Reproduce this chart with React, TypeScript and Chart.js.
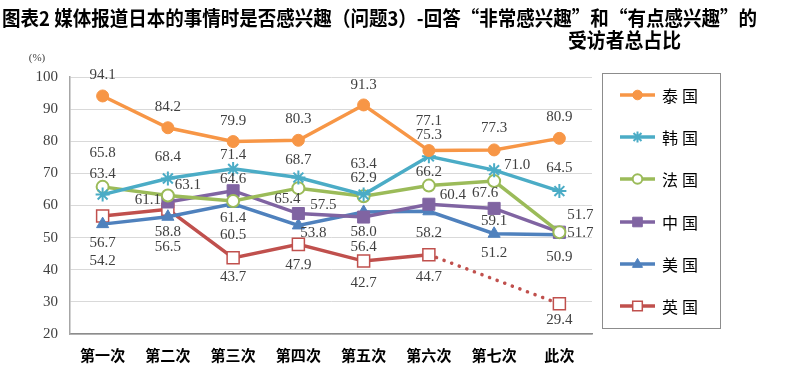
import React, { useEffect, useRef } from 'react';
import { Chart, registerables } from 'chart.js';

Chart.register(...registerables);

const categories = ['第一次', '第二次', '第三次', '第四次', '第五次', '第六次', '第七次', '此次'];
const seriesNames = ['泰国', '韩国', '法国', '中国', '美国', '英国'];
const thailand = [94.1, 84.2, 79.9, 80.3, 91.3, 77.1, 77.3, 80.9];
const korea = [63.4, 68.4, 71.4, 68.7, 63.4, 75.3, 71.0, 64.5];
const france = [65.8, 63.1, 61.4, 65.4, 62.9, 66.2, 67.6, 51.7];
const china = [null, 61.1, 64.6, 57.5, 56.4, 60.4, 59.1, 51.7];
const usa = [54.2, 56.5, 60.5, 53.8, 58.0, 58.2, 51.2, 50.9];
const uk = [56.7, 58.8, 43.7, 47.9, 42.7, 44.7, null, 29.4];
const yTicks = [20, 30, 40, 50, 60, 70, 80, 90, 100];

const titleLine1 = '图表2 媒体报道日本的事情时是否感兴趣（问题3）-回答“非常感兴趣”和“有点感兴趣”的';
const titleLine2 = '受访者总占比';
const unitLabel = '(%)';

// label offsets [dx, dy] per series, per point
const labelOffsets: number[][][] = [
  [[0, -21], [0, -21], [0, -21], [0, -21], [0, -20], [0, -30], [0, -22], [0, -21]],
  [[0, -21], [0, -21], [0, -14], [0, -17], [0, -31], [0, -21], [23, -5], [0, -23]],
  [[0, -34], [20, -10], [0, 17], [-11, 11], [0, -18], [0, -14], [-9, 12], [21, -17]],
  [[0, 0], [-20, -2], [0, -12], [25, -8], [0, 30], [24, -9], [0, 13], [21, 1]],
  [[0, 37], [0, 30], [0, 31], [15, 8], [0, 20], [0, 22], [0, 19], [0, 22]],
  [[0, 27], [0, 23], [0, 19], [0, 21], [0, 22], [0, 22], [0, 0], [0, 16]],
];

const colors = ['#F79646', '#4BACC6', '#9BBB59', '#8064A2', '#4F81BD', '#C0504D'];
const styles = [
  { pointStyle: 'circle', radius: 6, fill: '#F79646', bw: 1 },
  { pointStyle: 'star', radius: 7, fill: '#4BACC6', bw: 2 },
  { pointStyle: 'circle', radius: 6, fill: '#FFFFFF', bw: 2 },
  { pointStyle: 'rect', radius: 8.5, fill: '#8064A2', bw: 1 },
  { pointStyle: 'triangle', radius: 7, fill: '#4F81BD', bw: 1 },
  { pointStyle: 'rect', radius: 8.5, fill: '#FFFFFF', bw: 1.5 },
];

function drawMarker(ctx: CanvasRenderingContext2D, style: string, x: number, y: number, r: number, fill: string, stroke: string, bw: number) {
  ctx.save();
  ctx.fillStyle = fill;
  ctx.strokeStyle = stroke;
  ctx.lineWidth = bw;
  ctx.beginPath();
  if (style === 'circle') {
    ctx.arc(x, y, r, 0, Math.PI * 2);
    ctx.fill();
    ctx.stroke();
  } else if (style === 'rect') {
    const s = r * Math.SQRT1_2;
    ctx.rect(x - s, y - s, 2 * s, 2 * s);
    ctx.fill();
    ctx.stroke();
  } else if (style === 'triangle') {
    ctx.moveTo(x, y - r);
    ctx.lineTo(x + r * 0.9, y + r * 0.6);
    ctx.lineTo(x - r * 0.9, y + r * 0.6);
    ctx.closePath();
    ctx.fill();
    ctx.stroke();
  } else if (style === 'star') {
    for (let i = 0; i < 4; i++) {
      const a = (i * Math.PI) / 4;
      ctx.moveTo(x - Math.cos(a) * r, y - Math.sin(a) * r);
      ctx.lineTo(x + Math.cos(a) * r, y + Math.sin(a) * r);
    }
    ctx.stroke();
  }
  ctx.restore();
}

const labelPlugin = {
  id: 'valueLabels',
  afterDatasetsDraw(chart: any) {
    const ctx = chart.ctx as CanvasRenderingContext2D;
    ctx.save();
    ctx.font = '15px "Liberation Serif", "DejaVu Serif", serif';
    ctx.fillStyle = '#404040';
    ctx.textAlign = 'center';
    ctx.textBaseline = 'middle';
    chart.data.datasets.forEach((ds: any, di: number) => {
      const meta = chart.getDatasetMeta(di);
      meta.data.forEach((pt: any, i: number) => {
        const v = ds.data[i];
        if (v === null || v === undefined) return;
        const off = labelOffsets[di][i];
        ctx.fillText(Number(v).toFixed(1), pt.x + off[0], pt.y + off[1]);
      });
    });
    ctx.restore();
  },
};

const decorPlugin = {
  id: 'decor',
  afterDraw(chart: any) {
    const ctx = chart.ctx as CanvasRenderingContext2D;
    ctx.save();
    // title
    ctx.fillStyle = '#000';
    ctx.font = 'bold 20px "Noto Sans CJK SC", sans-serif';
    ctx.textBaseline = 'middle';
    ctx.textAlign = 'left';
    ctx.fillText(titleLine1, 2, 18, 755);
    ctx.fillText(titleLine2, 568, 40, 113);
    // unit
    ctx.font = '11px "Liberation Serif", serif';
    ctx.fillStyle = '#404040';
    ctx.textAlign = 'center';
    ctx.fillText(unitLabel, 37, 58);
    // legend box
    ctx.strokeStyle = '#8c8c8c';
    ctx.lineWidth = 1;
    ctx.strokeRect(602.5, 73.5, 118, 255);
    const ys = [95, 137, 179, 222, 264, 306];
    seriesNames.forEach((name, i) => {
      const y = ys[i];
      ctx.strokeStyle = colors[i];
      ctx.lineWidth = 3.5;
      ctx.beginPath();
      ctx.moveTo(620, y);
      ctx.lineTo(655, y);
      ctx.stroke();
      const st = styles[i];
      drawMarker(ctx, st.pointStyle, 637.5, y, st.radius * 0.8, st.fill, colors[i], st.bw);
      ctx.fillStyle = '#000';
      ctx.font = '16px "Noto Sans CJK SC", sans-serif';
      (ctx as any).letterSpacing = '4px';
      ctx.textAlign = 'left';
      ctx.textBaseline = 'middle';
      ctx.fillText(name, 662, y + 1);
      (ctx as any).letterSpacing = '0px';
    });
    ctx.restore();
  },
};

export default function App() {
  const ref = useRef<HTMLCanvasElement | null>(null);
  useEffect(() => {
    if (!ref.current) return;
    const all = [thailand, korea, france, china, usa, uk];
    const chart = new Chart(ref.current, {
      type: 'line',
      data: {
        labels: categories,
        datasets: all.map((d, i) => ({
          label: seriesNames[i],
          data: d,
          borderColor: colors[i],
          backgroundColor: styles[i].fill,
          borderWidth: 3.5,
          pointStyle: styles[i].pointStyle as any,
          pointRadius: styles[i].radius,
          pointBorderWidth: styles[i].bw,
          pointBorderColor: colors[i],
          pointBackgroundColor: styles[i].fill,
          tension: 0,
          spanGaps: i === 5,
          borderCapStyle: 'round' as any,
          segment: i === 5 ? {
            borderDash: (c: any) => (c.p0.skip || c.p1.skip ? [0.1, 8] : undefined),
          } : undefined,
        })),
      },
      options: {
        animation: false,
        responsive: true,
        maintainAspectRatio: false,
        layout: { padding: { top: 77, right: 220, bottom: 0, left: 0 } },
        plugins: { legend: { display: false }, tooltip: { enabled: false }, title: { display: false } },
        scales: {
          x: {
            offset: true,
            grid: { display: false, drawTicks: false },
            border: { display: true, color: '#8c8c8c', width: 1.5 },
            ticks: {
              font: { family: '"Noto Sans CJK SC", sans-serif', size: 15, weight: 'bold' },
              color: '#000',
              padding: 12,
              maxRotation: 0,
            },
            afterFit: (s: any) => { s.height = 38; },
          },
          y: {
            min: 20,
            max: 100,
            afterBuildTicks: (s: any) => { s.ticks = yTicks.map((v) => ({ value: v })); },
            grid: { color: '#d9d9d9', lineWidth: 1, drawTicks: false },
            border: { display: true, color: '#a6a6a6', width: 1.5 },
            ticks: {
              font: { family: '"Liberation Serif", "DejaVu Serif", serif', size: 15 },
              color: '#404040',
              padding: 12,
            },
            afterFit: (s: any) => { s.width = 70; },
          },
        },
      },
      plugins: [labelPlugin, decorPlugin],
    });
    return () => chart.destroy();
  }, []);
  return (
    <div style={{ position: 'absolute', left: 0, top: 0, width: 812, height: 372, background: '#fff' }}>
      <canvas ref={ref} />
    </div>
  );
}
